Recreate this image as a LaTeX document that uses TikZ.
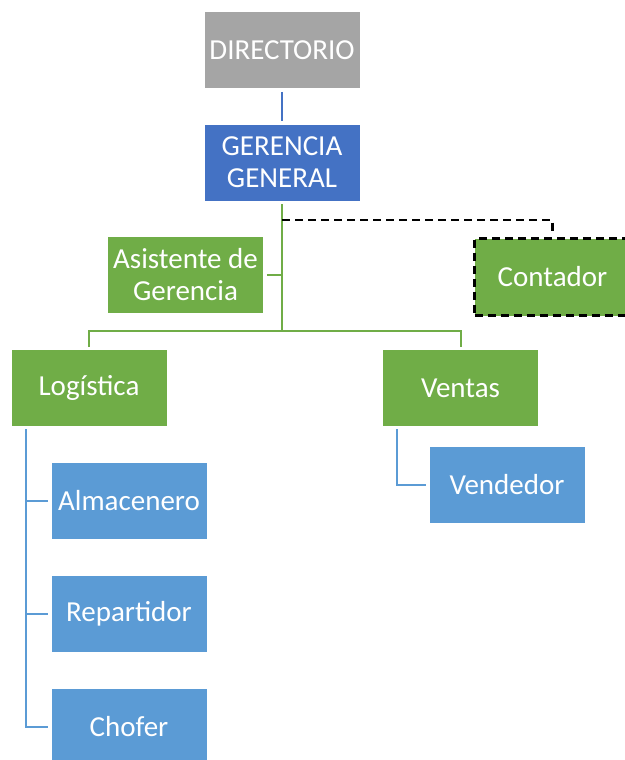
\documentclass[tikz,border=0pt]{standalone}
\usepackage{fontspec}
\setmainfont{Carlito}
\usetikzlibrary{calc}

\definecolor{dirgray}{HTML}{A5A5A5}
\definecolor{gerblue}{HTML}{4472C4}
\definecolor{areagreen}{HTML}{70AD47}
\definecolor{staffblue}{HTML}{5B9BD5}

\tikzset{
    unit/.style={rectangle, minimum width=156pt, minimum height=77pt, inner sep=0pt,
        align=center, text=white, draw=white, line width=0.6pt,
        font=\fontsize{29}{32}\selectfont},
    link/.style={line width=2pt},
}

\begin{document}
\begin{tikzpicture}[x=1pt, y=-1pt]
    \useasboundingbox (0,0) rectangle (624,760);
    \node[unit, fill=dirgray] (dir) at (282,50) {DIRECTORIO};
    \node[unit, fill=gerblue] (ger) at (282,162.5) {GERENCIA\\GENERAL};
    \node[unit, fill=areagreen] (asis) at (185.5,275) {Asistente de\\Gerencia};
    \node[unit, fill=areagreen, draw=black, line width=2.6pt, dash pattern=on 8pt off 5pt] (cont) at (552.5,277) {Contador};
    \node[unit, fill=areagreen] (log) at (89,388) {Logística};
    \node[unit, fill=areagreen] (vent) at (460.5,388) {Ventas};
    \node[unit, fill=staffblue] (alm) at (129,501) {Almacenero};
    \node[unit, fill=staffblue] (rep) at (129,613.5) {Repartidor};
    \node[unit, fill=staffblue] (cho) at (129,727) {Chofer};
    \node[unit, fill=staffblue] (vend) at (507,485) {Vendedor};

    \coordinate (hub) at (282,331);
    \coordinate (tap) at (282,220);
    \coordinate (ltop) at (26,429);
    \coordinate (vtop) at (397,429);

    \draw[link, gerblue, shorten <=3pt, shorten >=3pt] (dir) -- (ger);
    \draw[link, areagreen, shorten <=3pt] (ger) -- (hub);
    \draw[link, areagreen, shorten <=3pt] (asis) -- (asis -| hub);
    \draw[link, areagreen, shorten <=2pt, shorten >=2pt] (log) |- (hub) -| (vent);
    \draw[line width=2.5pt, dash pattern=on 8pt off 5pt, shorten >=5pt] (tap) -| (cont);
    \foreach \n in {alm, rep, cho}
        \draw[link, staffblue, shorten >=2.5pt] (ltop) |- (\n);
    \draw[link, staffblue, shorten >=3pt] (vtop) |- (vend);
\end{tikzpicture}
\end{document}
